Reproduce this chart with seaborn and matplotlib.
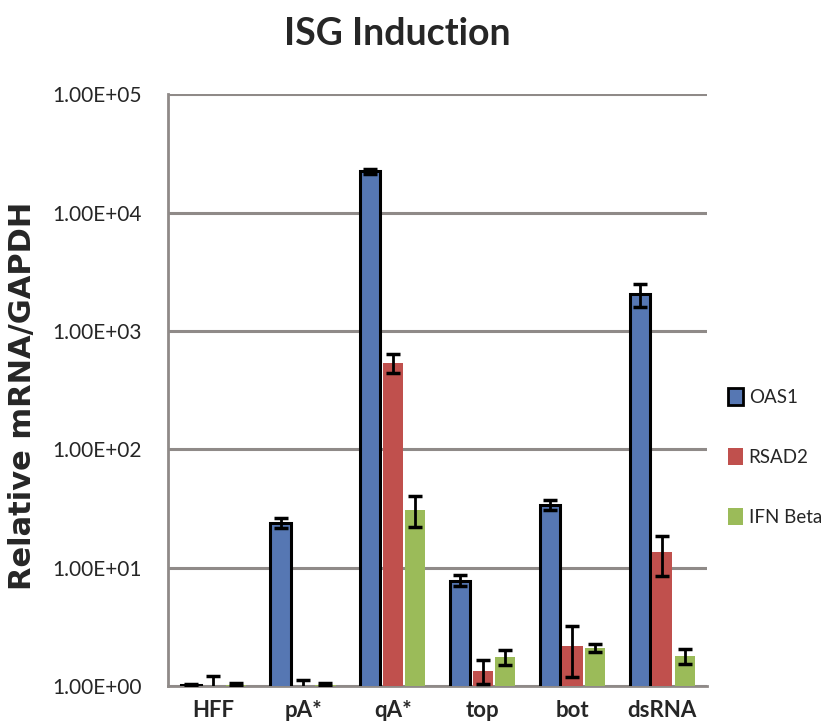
import numpy as np
import pandas as pd
import matplotlib
matplotlib.use("Agg")
import matplotlib.pyplot as plt
from matplotlib.patches import Patch
from matplotlib.ticker import FixedLocator, NullLocator
import seaborn as sns

# Samples and genes
samples = ["HFF", "pA*", "qA*", "top", "bot", "dsRNA"]
genes = ["OAS1", "RSAD2", "IFN Beta"]

# Relative expression (mRNA / GAPDH) and standard deviations
oas1 = [1.02, 24.0, 22400.0, 7.8, 34.0, 2050.0]
oas1_err = [0.02, 2.5, 1200.0, 0.8, 3.0, 450.0]
rsad2 = [1.0, 1.0, 540.0, 1.35, 2.2, 13.5]
rsad2_err = [0.22, 0.12, 100.0, 0.3, 1.0, 5.0]
ifnb = [1.03, 1.03, 31.0, 1.75, 2.1, 1.8]
ifnb_err = [0.03, 0.03, 9.0, 0.25, 0.15, 0.25]

ytick_values = [1e0, 1e1, 1e2, 1e3, 1e4, 1e5]
ytick_labels = ["1.00E+00", "1.00E+01", "1.00E+02", "1.00E+03", "1.00E+04", "1.00E+05"]

colors = ["#5677B3", "#C0504D", "#9BBB59"]

df = pd.DataFrame({
    "sample": samples * 3,
    "gene": [g for g in genes for _ in samples],
    "value": oas1 + rsad2 + ifnb,
    "err": oas1_err + rsad2_err + ifnb_err,
})

sns.set_style("white")
plt.rcParams["font.family"] = ["Lato", "DejaVu Sans"]

fig = plt.figure(figsize=(8.33, 7.26), dpi=100)
ax = fig.add_axes([0.202, 0.055, 0.647, 0.815])

sns.barplot(data=df, x="sample", y="value", hue="gene", order=samples,
            hue_order=genes, palette=colors, width=0.75, gap=0.1,
            errorbar=None, legend=False, ax=ax, zorder=3, saturation=1)

ax.set_yscale("log")
ax.set_ylim(1, 1e5)
ax.set_xlim(-0.5, len(samples) - 0.5)

# Style bars: OAS1 bars carry a black outline
bars = [p for p in ax.patches]
n = len(samples)
for i, p in enumerate(bars):
    gi = i // n
    if gi == 0:
        p.set_edgecolor("black")
        p.set_linewidth(2.2)
    else:
        p.set_edgecolor("none")

# Error bars at bar centres
for gi, gene in enumerate(genes):
    sub = df[df["gene"] == gene].set_index("sample").loc[samples]
    xs = [bars[gi * n + k].get_x() + bars[gi * n + k].get_width() / 2 for k in range(n)]
    ax.errorbar(xs, sub["value"].values, yerr=sub["err"].values, fmt="none",
                ecolor="black", elinewidth=2.0, capsize=5, capthick=2.5, zorder=4)

# Axes, grid and ticks
ax.yaxis.set_major_locator(FixedLocator(ytick_values))
ax.yaxis.set_minor_locator(NullLocator())
ax.set_yticklabels(ytick_labels)
ax.grid(axis="y", color="#8f8a88", linewidth=2.2, zorder=0)
ax.grid(axis="x", visible=False)
for s in ["top", "right"]:
    ax.spines[s].set_visible(False)
for s in ["left", "bottom"]:
    ax.spines[s].set_color("#8f8a88")
    ax.spines[s].set_linewidth(2.0)

ax.set_xticks(np.arange(n))
ax.set_xticklabels(samples)
ax.tick_params(axis="x", length=0, pad=10, labelsize=16)
ax.set_xticks(np.arange(-0.5, n, 1.0), minor=True)
ax.tick_params(axis="x", which="minor", length=7, width=1.8, color="#8f8a88", direction="out")
ax.tick_params(axis="y", length=7, width=1.8, color="#8f8a88", labelsize=15, pad=12)
for lbl in ax.get_xticklabels():
    lbl.set_fontweight("bold")

ax.set_xlabel("")
ax.set_ylabel("Relative mRNA/GAPDH", fontsize=22, fontweight="bold",
              family=["DejaVu Sans"])
ax.yaxis.set_label_coords(-0.243, 0.49)

fig.text(0.477, 0.953, "ISG Induction", ha="center", va="center",
         fontsize=27, fontweight="bold")

handles = [Patch(facecolor=colors[0], edgecolor="black", linewidth=2),
           Patch(facecolor=colors[1], edgecolor="none"),
           Patch(facecolor=colors[2], edgecolor="none")]
fig.legend(handles, genes, loc="center left", bbox_to_anchor=(0.874, 0.37),
           frameon=False, fontsize=13.5, labelspacing=2.25, handlelength=0.8,
           handleheight=1.0, handletextpad=0.3, borderpad=0, borderaxespad=0)

fig.savefig("out.png", dpi=100, facecolor="white")
